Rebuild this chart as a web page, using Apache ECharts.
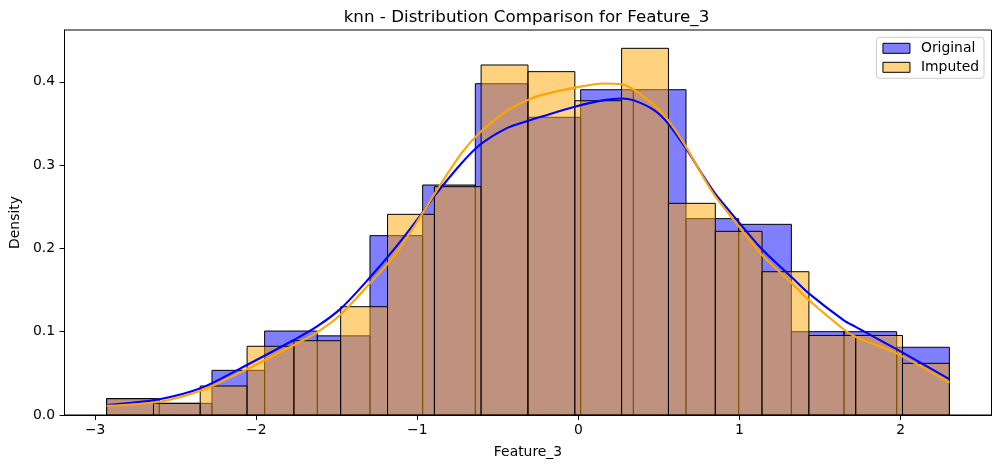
<!DOCTYPE html>
<html>
<head>
<meta charset="utf-8">
<script src="https://cdn.jsdelivr.net/npm/echarts@6.0.0/dist/echarts.min.js"></script>
<style>
  html, body { margin: 0; padding: 0; background: #fff; }
  #chart { width: 1001px; height: 468px; }
</style>
</head>
<body>
<div id="chart"></div>
<script>
// 直方图分箱边界
const origEdges = [-2.929, -2.602, -2.275, -1.948, -1.621, -1.294, -0.967, -0.640, -0.313,
  0.014, 0.341, 0.668, 0.995, 1.322, 1.649, 1.976, 2.303]
const origDensity = [0.0196, 0.014, 0.0536, 0.1008, 0.095, 0.2153, 0.2761, 0.3977,
  0.3574, 0.3905, 0.3905, 0.2357, 0.2289, 0.100, 0.100, 0.0813]

const impEdges = [-2.929, -2.638, -2.348, -2.057, -1.766, -1.476, -1.185, -0.894, -0.604,
  -0.313, -0.022, 0.268, 0.559, 0.850, 1.140, 1.431, 1.722, 2.012, 2.303]
const impDensity = [0.0196, 0.014, 0.0348, 0.0825, 0.0892, 0.130, 0.2409, 0.2741, 0.4202,
  0.4122, 0.3773, 0.4402, 0.2541, 0.2205, 0.172, 0.0955, 0.0955, 0.062]

// KDE 曲线采样点
const kdeX = [-2.929, -2.601, -2.347, -2.058, -1.767, -1.625, -1.474, -1.295, -1.140,
  -0.968, -0.898, -0.727, -0.607, -0.438, -0.316, -0.232, -0.023, 0.159, 0.268, 0.340,
  0.470, 0.557, 0.668, 0.759, 0.848, 0.998, 1.140, 1.326, 1.430, 1.646, 1.719, 1.975, 2.303]
const origKde = [0.012, 0.019, 0.032, 0.060, 0.090, 0.106, 0.128, 0.165, 0.200,
  0.243, 0.262, 0.302, 0.325, 0.345, 0.353, 0.358, 0.370, 0.378, 0.380, 0.378,
  0.366, 0.350, 0.320, 0.292, 0.266, 0.231, 0.199, 0.165, 0.146, 0.114, 0.106, 0.079, 0.043]
const impKde = [0.011, 0.016, 0.029, 0.055, 0.084, 0.099, 0.121, 0.158, 0.192,
  0.242, 0.264, 0.314, 0.340, 0.366, 0.378, 0.384, 0.393, 0.398, 0.397, 0.391,
  0.372, 0.354, 0.322, 0.291, 0.263, 0.226, 0.192, 0.158, 0.138, 0.103, 0.094, 0.074, 0.039]

const xTicks = [-3, -2, -1, 0, 1, 2]
const yTicks = [0, 0.1, 0.2, 0.3, 0.4]

const FONT = 'DejaVu Sans'
const BLUE_FILL = 'rgba(0,0,255,0.5)'
const ORANGE_FILL = 'rgba(255,165,0,0.5)'

function binData(edges, dens) {
  return dens.map((d, i) => [edges[i], edges[i + 1], d])
}

function histRender(fill) {
  return function (params, api) {
    const p0 = api.coord([api.value(0), api.value(2)])
    const p1 = api.coord([api.value(1), 0])
    return {
      type: 'rect',
      shape: { x: p0[0], y: p0[1], width: p1[0] - p0[0], height: p1[1] - p0[1] },
      style: { fill: fill, stroke: '#000', lineWidth: 1 }
    }
  }
}

const fmtX = v => (v < 0 ? '\u2212' + Math.abs(v) : String(v))

const chart = echarts.init(document.getElementById('chart'))
chart.setOption({
  animation: false,
  backgroundColor: '#fff',
  textStyle: { fontFamily: FONT, color: '#000' },
  title: {
    text: 'knn - Distribution Comparison for Feature_3',
    left: 526.5,
    top: 9,
    padding: 0,
    textAlign: 'center',
    textStyle: { fontSize: 16.7, fontWeight: 'normal', color: '#000', fontFamily: FONT }
  },
  legend: {
    orient: 'vertical',
    right: 17,
    top: 37.3,
    padding: [4, 5, 4, 6],
    itemWidth: 27,
    itemHeight: 10,
    itemGap: 5,
    backgroundColor: 'rgba(255,255,255,0.8)',
    borderColor: '#cccccc',
    borderWidth: 1,
    borderRadius: 3,
    textStyle: { fontSize: 13.9, color: '#000', fontFamily: FONT, padding: [0, 0, 0, 6] },
    data: [
      { name: 'Original', icon: 'rect', itemStyle: { color: BLUE_FILL, borderColor: '#000', borderWidth: 1 } },
      { name: 'Imputed', icon: 'rect', itemStyle: { color: ORANGE_FILL, borderColor: '#000', borderWidth: 1 } }
    ]
  },
  grid: {
    left: 61.5,
    right: 9.5,
    top: 30,
    bottom: 53,
    show: true,
    borderColor: '#000',
    borderWidth: 1,
    backgroundColor: 'transparent'
  },
  xAxis: {
    type: 'value',
    min: -3.1906,
    max: 2.5646,
    name: 'Feature_3',
    nameLocation: 'middle',
    nameGap: 30,
    nameTextStyle: { fontSize: 13.9, color: '#000', fontFamily: FONT },
    axisLine: { show: true, onZero: false, lineStyle: { color: '#000', width: 1 } },
    axisTick: { show: true, customValues: xTicks, length: 4.9, lineStyle: { color: '#000', width: 1 } },
    axisLabel: { customValues: xTicks, formatter: fmtX, margin: 8.5, fontSize: 13.9, color: '#000', fontFamily: FONT },
    splitLine: { show: false }
  },
  yAxis: {
    type: 'value',
    min: 0,
    max: 0.4622,
    name: 'Density',
    nameLocation: 'middle',
    nameGap: 36.5,
    nameTextStyle: { fontSize: 13.9, color: '#000', fontFamily: FONT },
    axisLine: { show: true, onZero: false, lineStyle: { color: '#000', width: 1 } },
    axisTick: { show: true, customValues: yTicks, length: 4.9, lineStyle: { color: '#000', width: 1 } },
    axisLabel: { customValues: yTicks, formatter: v => v.toFixed(1), margin: 9.5, fontSize: 13.9, color: '#000', fontFamily: FONT },
    splitLine: { show: false }
  },
  series: [
    {
      name: 'Original',
      type: 'custom',
      renderItem: histRender(BLUE_FILL),
      itemStyle: { color: BLUE_FILL },
      encode: { x: [0, 1], y: 2 },
      data: binData(origEdges, origDensity),
      z: 1
    },
    {
      name: 'Imputed',
      type: 'custom',
      renderItem: histRender(ORANGE_FILL),
      itemStyle: { color: ORANGE_FILL },
      encode: { x: [0, 1], y: 2 },
      data: binData(impEdges, impDensity),
      z: 2
    },
    {
      name: 'Original KDE',
      type: 'line',
      data: kdeX.map((x, i) => [x, origKde[i]]),
      smooth: 0.3,
      showSymbol: false,
      lineStyle: { color: '#0000ff', width: 2.1 },
      itemStyle: { color: '#0000ff' },
      z: 3
    },
    {
      name: 'Imputed KDE',
      type: 'line',
      data: kdeX.map((x, i) => [x, impKde[i]]),
      smooth: 0.3,
      showSymbol: false,
      lineStyle: { color: '#ffa500', width: 2.1 },
      itemStyle: { color: '#ffa500' },
      z: 4
    }
  ]
})
</script>
</body>
</html>
